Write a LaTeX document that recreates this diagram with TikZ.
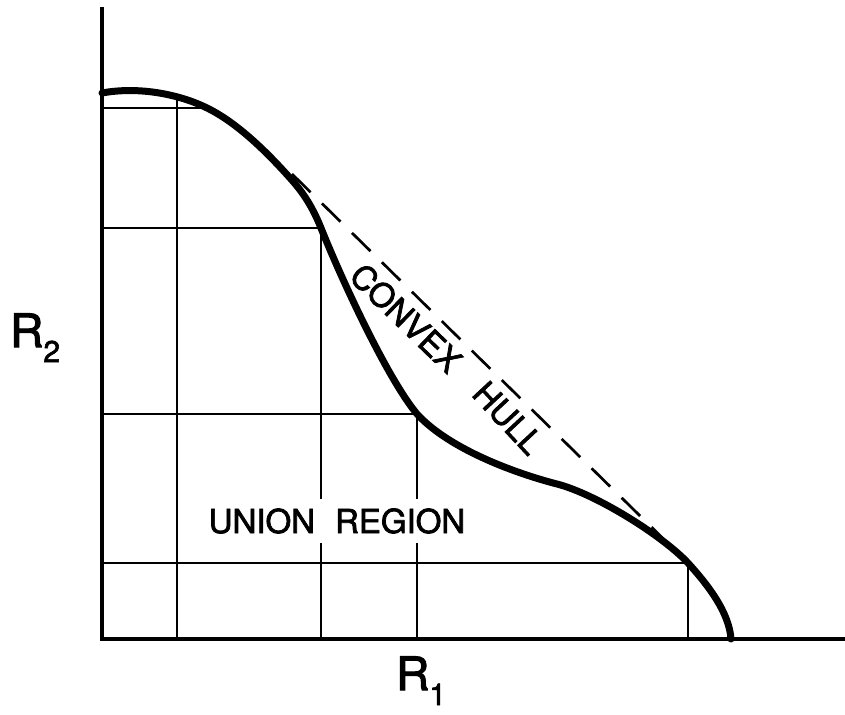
\documentclass[tikz,border=0pt]{standalone}
\usepackage{fontspec}
\setmainfont{TeX Gyre Heros}
\newfontfamily\lettering[FakeBold=2.2]{TeX Gyre Heros}
\begin{document}
\begin{tikzpicture}[x=1pt,y=-1pt,
  axisline/.style={line width=4.8pt},
  gridline/.style={line width=2.7pt},
  boundary/.style={line width=7pt,line cap=round,line join=round},
  hull/.style={line width=2.7pt,dash pattern=on 26pt off 16pt},
  lbl/.style={font=\lettering\fontsize{33}{36}\selectfont,inner sep=0pt},
  axlbl/.style={font=\lettering\fontsize{46}{50}\selectfont,inner sep=0pt,anchor=base west}]
\useasboundingbox (0,0) rectangle (845,714);
% grid of rectangles
\coordinate (c1) at (177,97);
\coordinate (c1h) at (205,108);
\coordinate (c2) at (321,228);
\coordinate (c3) at (417,414);
\coordinate (c4) at (688,563);
\draw[gridline] (102,108) -- (c1h);
\draw[gridline] (177,639) -- (c1);
\draw[gridline] (102,228) -- (c2) -- (321,639);
\draw[gridline] (102,414) -- (c3) -- (417,639);
\draw[gridline] (102,563) -- (c4) -- (688,639);
% union region label
\node[lbl,fill=white,inner xsep=4pt,inner ysep=9pt] (union) at (337,521) {UNION\hspace{20pt}REGION};
% convex hull dashed
\coordinate (h1) at (292,174);
\draw[hull] (h1) -- (c4);
% boundary curve
\draw[boundary] (102,93) .. controls (140,86) and (180,95) .. (205,107)
  .. controls (235,121) and (265,150) .. (290,178)
  .. controls (300,189) and (311,203) .. (c2)
  .. controls (341,278) and (387,378) .. (c3)
  .. controls (450,450) and (518,474) .. (557,484)
  .. controls (596,494) and (663,536) .. (c4)
  .. controls (708,585) and (729,612) .. (731,639);
% axes
\coordinate (o) at (102,639);
\draw[axisline] (102,7) -- (o) -- (845,639);
% labels
\node[lbl,rotate=-44] (convex) at (406,318) {CONVEX};
\node[lbl,rotate=-47] (hulllbl) at (508,418) {HULL};
\node[axlbl] (r2) at (10,347) {R\raisebox{-15pt}{\fontsize{30}{32}\selectfont 2}};
\node[axlbl] (r1) at (396,690) {R\raisebox{-15pt}{\fontsize{30}{32}\selectfont 1}};
\end{tikzpicture}
\end{document}
